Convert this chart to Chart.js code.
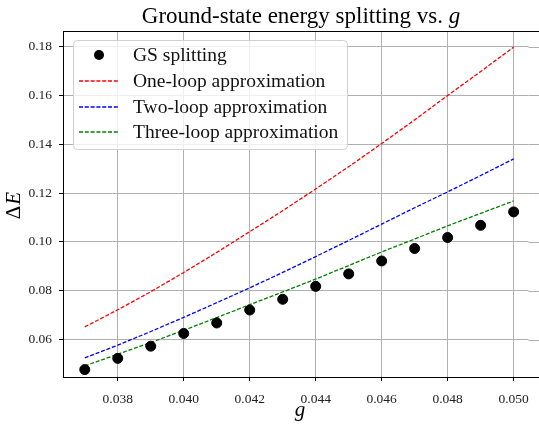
<!DOCTYPE html>
<html>
<head>
<meta charset="utf-8">
<script src="https://cdn.jsdelivr.net/npm/chart.js@4.4.1/dist/chart.umd.min.js"></script>
<style>
  html, body { margin: 0; padding: 0; background: #fff; }
  #wrap { width: 539px; height: 429px; }
</style>
</head>
<body>
<div id="wrap"><canvas id="chart" width="539" height="429"></canvas></div>
<script>
// coupling values
const gValues = [0.037, 0.038, 0.039, 0.040, 0.041, 0.042, 0.043, 0.044, 0.045, 0.046, 0.047, 0.048, 0.049, 0.050];
// ground-state splitting (dots)
const gsSplitting = [0.0477, 0.0523, 0.0573, 0.0625, 0.0668, 0.0721, 0.0765, 0.0818, 0.0869, 0.0922, 0.0973, 0.1018, 0.1068, 0.1123];
// approximations
const oneLoop = [0.0652, 0.0722, 0.0796, 0.0875, 0.0957, 0.1042, 0.1128, 0.1217, 0.1308, 0.1403, 0.1500, 0.1600, 0.1698, 0.1798];
const twoLoop = [0.0525, 0.0577, 0.0633, 0.0691, 0.0751, 0.0812, 0.0875, 0.0940, 0.1006, 0.1073, 0.1140, 0.1205, 0.1272, 0.1340];
const threeLoop = [0.0492, 0.0540, 0.0588, 0.0638, 0.0690, 0.0743, 0.0795, 0.0848, 0.0903, 0.0959, 0.1012, 0.1066, 0.1117, 0.1168];

const xTicks = [0.038, 0.040, 0.042, 0.044, 0.046, 0.048, 0.050];
const yTicks = [0.06, 0.08, 0.10, 0.12, 0.14, 0.16, 0.18];

const serif = '"Liberation Serif", "DejaVu Serif", serif';

function pts(ys) {
    return gValues.map((g, i) => ({x: g, y: ys[i]}));
}

function lineSet(label, ys, color) {
    return {
        type: 'line', label: label, data: pts(ys),
        borderColor: color, backgroundColor: color,
        borderWidth: 1.3, borderDash: [4, 1.8],
        pointRadius: 0, fill: false, showLine: true
    };
}

const frame = {
    id: 'frame',
    beforeDatasetsDraw(chart) {
        // chart.js keeps a few px free on the right; the axes in the picture run to the edge
        const ctx = chart.ctx;
        const a = chart.chartArea;
        const ys = chart.scales.y;
        ctx.save();
        ctx.strokeStyle = '#b0b0b0';
        ctx.lineWidth = 1;
        yTicks.forEach(v => {
            const py = Math.round(ys.getPixelForValue(v)) + 0.5;
            ctx.beginPath();
            ctx.moveTo(a.right, py);
            ctx.lineTo(chart.width, py);
            ctx.stroke();
        });
        ctx.restore();
    },
    afterDatasetsDraw(chart) {
        const ctx = chart.ctx;
        const a = chart.chartArea;
        ctx.save();
        // top spine
        ctx.strokeStyle = '#000';
        ctx.lineWidth = 1;
        ctx.beginPath();
        ctx.moveTo(a.left, a.top + 0.5);
        ctx.lineTo(chart.width, a.top + 0.5);
        ctx.moveTo(a.right, a.bottom + 0.5);
        ctx.lineTo(chart.width, a.bottom + 0.5);
        ctx.stroke();

        // legend
        const bx = 73, by = 40, bw = 274, bh = 109, r = 4;
        ctx.fillStyle = 'rgba(255,255,255,0.8)';
        ctx.strokeStyle = '#d0d0d0';
        ctx.beginPath();
        ctx.roundRect(bx + 0.5, by + 0.5, bw, bh, r);
        ctx.fill();
        ctx.stroke();
        const rows = [55, 81, 107, 132];
        ctx.font = '19.5px ' + serif;
        ctx.textBaseline = 'middle';
        ctx.textAlign = 'left';
        chart.data.datasets.forEach((ds, i) => {
            const y = rows[i];
            if (ds.showLine === false) {
                ctx.fillStyle = ds.backgroundColor;
                ctx.beginPath();
                ctx.arc(99, y, 5, 0, Math.PI * 2);
                ctx.fill();
            } else {
                ctx.strokeStyle = ds.borderColor;
                ctx.lineWidth = ds.borderWidth;
                ctx.setLineDash(ds.borderDash);
                ctx.beginPath();
                ctx.moveTo(79, y);
                ctx.lineTo(118, y);
                ctx.stroke();
                ctx.setLineDash([]);
            }
            ctx.fillStyle = '#111';
            ctx.fillText(ds.label, 133, y + 1);
        });

        // title
        ctx.fillStyle = '#000';
        ctx.textBaseline = 'alphabetic';
        const t1 = 'Ground-state energy splitting vs. ';
        ctx.font = 'italic 23px ' + serif;
        const wg = ctx.measureText('g').width;
        ctx.font = '23px ' + serif;
        const w1 = ctx.measureText(t1).width;
        let tx = 301 - (w1 + wg) / 2;
        ctx.fillText(t1, tx, 23);
        ctx.font = 'italic 23px ' + serif;
        ctx.fillText('g', tx + w1, 23);

        // x label
        ctx.font = 'italic 21px ' + serif;
        ctx.textAlign = 'center';
        ctx.fillText('g', 300, 416);

        // y label
        ctx.translate(13, 206);
        ctx.rotate(-Math.PI / 2);
        ctx.font = '21px ' + serif;
        const wd = ctx.measureText('\u0394').width;
        ctx.font = 'italic 21px ' + serif;
        const we = ctx.measureText('E').width;
        ctx.textAlign = 'left';
        ctx.font = '21px ' + serif;
        ctx.fillText('\u0394', -(wd + we) / 2, 7);
        ctx.font = 'italic 21px ' + serif;
        ctx.fillText('E', -(wd + we) / 2 + wd + 1, 7);
        ctx.restore();
    }
};

new Chart(document.getElementById('chart'), {
    type: 'scatter',
    data: {
        datasets: [
            {
                label: 'GS splitting', data: pts(gsSplitting),
                backgroundColor: '#000', borderColor: '#000',
                pointRadius: 5, pointHoverRadius: 5, showLine: false
            },
            lineSet('One-loop approximation', oneLoop, 'red'),
            lineSet('Two-loop approximation', twoLoop, 'blue'),
            lineSet('Three-loop approximation', threeLoop, 'green')
        ]
    },
    options: {
        responsive: false,
        animation: false,
        devicePixelRatio: 1,
        layout: {padding: {top: 31, right: 0, left: 0, bottom: 0}},
        plugins: {legend: {display: false}, tooltip: {enabled: false}, title: {display: false}},
        scales: {
            x: {
                type: 'linear', min: 0.03634, max: 0.05045,
                afterBuildTicks: s => { s.ticks = xTicks.map(v => ({value: v})); },
                afterFit: s => { s.height = 52; },
                ticks: {
                    callback: v => v.toFixed(3), color: '#222', padding: 10,
                    maxRotation: 0, font: {family: serif, size: 13.5}
                },
                grid: {color: '#b0b0b0', tickColor: '#000', tickLength: 4, lineWidth: 1},
                border: {color: '#000', width: 1}
            },
            y: {
                min: 0.04467, max: 0.1864,
                afterBuildTicks: s => { s.ticks = yTicks.map(v => ({value: v})); },
                afterFit: s => { s.width = 63; },
                ticks: {
                    callback: v => v.toFixed(2), color: '#222', padding: 7,
                    font: {family: serif, size: 13.5}
                },
                grid: {color: '#b0b0b0', tickColor: '#000', tickLength: 4, lineWidth: 1},
                border: {color: '#000', width: 1}
            }
        }
    },
    plugins: [frame]
});
</script>
</body>
</html>
